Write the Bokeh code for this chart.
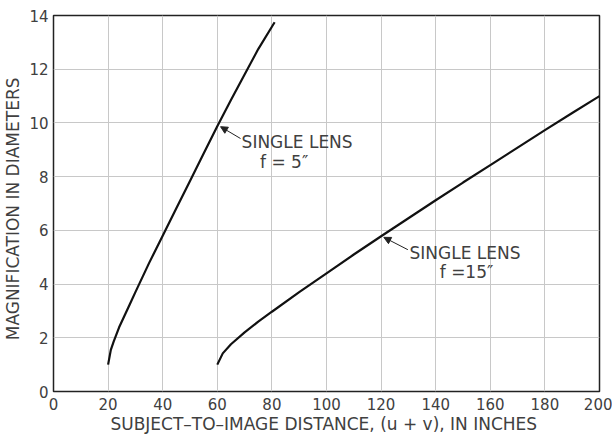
from bokeh.plotting import figure
from bokeh.models import FixedTicker, Label, Arrow, NormalHead
from bokeh.embed import file_html
from bokeh.resources import INLINE

# Single lens f = 5"
f5_x = [20, 21, 22, 24, 26, 28, 30, 35, 40, 45, 50, 55, 60, 65, 70, 75, 81]
f5_y = [1.0, 1.55, 1.85, 2.38, 2.82, 3.26, 3.7, 4.78, 5.8, 6.82, 7.84, 8.86, 9.88, 10.85, 11.8, 12.75, 13.75]

# Single lens f = 15"
f15_x = [60, 62, 65, 70, 75, 80, 90, 100, 110, 120, 130, 140, 150, 160, 170, 180, 190, 200]
f15_y = [1.0, 1.42, 1.76, 2.2, 2.6, 2.97, 3.7, 4.4, 5.1, 5.78, 6.45, 7.12, 7.78, 8.43, 9.08, 9.73, 10.37, 11.0]

x_ticks = [0, 20, 40, 60, 80, 100, 120, 140, 160, 180, 200]
y_ticks = [0, 2, 4, 6, 8, 10, 12, 14]

x_title = "SUBJECT\u2013TO\u2013IMAGE  DISTANCE, (u + v), IN INCHES"
y_title = "MAGNIFICATION  IN  DIAMETERS"

FONT = "DejaVu Sans"
TXT = "#404040"

p = figure(width=612, height=436, x_range=(0, 200), y_range=(0, 14),
           output_backend="svg", toolbar_location=None,
           min_border_left=53, min_border_right=13, min_border_top=15, min_border_bottom=44,
           background_fill_color="white", border_fill_color="white")

p.outline_line_color = "#222222"
p.outline_line_width = 1.5

p.xaxis.ticker = FixedTicker(ticks=x_ticks)
p.yaxis.ticker = FixedTicker(ticks=y_ticks)
for ax in (p.xaxis, p.yaxis):
    ax.axis_line_color = None
    ax.major_tick_line_color = None
    ax.minor_tick_line_color = None
    ax.major_tick_out = 0
    ax.major_tick_in = 0
    ax.minor_tick_out = 0
    ax.minor_tick_in = 0
    ax.major_label_text_font = FONT
    ax.major_label_text_font_size = "15px"
    ax.major_label_text_color = TXT
    ax.axis_label_text_font = FONT
    ax.axis_label_text_font_size = "17px"
    ax.axis_label_text_font_style = "normal"
    ax.axis_label_text_color = TXT
p.xaxis.axis_label = x_title
p.yaxis.axis_label = y_title
p.xaxis.major_label_standoff = 6
p.xaxis.axis_label_standoff = 1
p.yaxis.major_label_standoff = 5
p.yaxis.axis_label_standoff = 3

p.xgrid.grid_line_color = "#c8c8c8"
p.ygrid.grid_line_color = "#c8c8c8"

p.line(f5_x, f5_y, line_color="#111111", line_width=2.2)
p.line(f15_x, f15_y, line_color="#111111", line_width=2.2)

def note(x, y, text, align="left", size="17px"):
    p.add_layout(Label(x=x, y=y, text=text, text_font=FONT, text_font_size=size,
                       text_color=TXT, text_align=align, text_baseline="middle"))

note(68.9, 9.3, "SINGLE LENS")
note(84.5, 8.55, "f = 5\u2033", align="center")
note(130.4, 5.17, "SINGLE LENS")
note(151.3, 4.46, "f =15\u2033", align="center")

p.add_layout(Arrow(x_start=68.5, y_start=9.42, x_end=61.2, y_end=9.86, line_width=1,
                   line_color="#222222",
                   end=NormalHead(size=7, fill_color="#222222", line_color="#222222")))
p.add_layout(Arrow(x_start=129.8, y_start=5.28, x_end=121.0, y_end=5.74, line_width=1,
                   line_color="#222222",
                   end=NormalHead(size=7, fill_color="#222222", line_color="#222222")))

open("out.html", "w").write(file_html(p, INLINE))
